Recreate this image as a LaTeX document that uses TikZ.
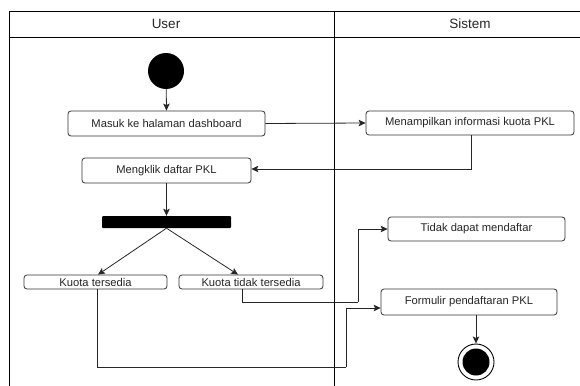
\documentclass[tikz,border=0pt]{standalone}
\usepackage{fontspec}
\setmainfont{Liberation Sans}
\usetikzlibrary{arrows.meta,calc}
\begin{document}
\begin{tikzpicture}[x=1pt,y=-1pt,
  act/.style={draw=black!80,line width=0.8pt,rounded corners=3pt,fill=white,
    inner sep=0pt,font=\fontsize{11.2}{13}\selectfont,text=black!85},
  conn/.style={draw=black!85,line width=0.8pt,-{Stealth[length=7pt,width=6.5pt,inset=1.5pt]}},
  plain/.style={draw=black!85,line width=0.8pt},
  lane/.style={draw=black,line width=0.9pt},
  hdr/.style={font=\fontsize{13.5}{15}\selectfont,text=black!85}]
\useasboundingbox (0,0) rectangle (580,385);
% swimlane frame
\draw[lane] (9,11) -- (581,11);
\draw[lane] (9,37) -- (581,37);
\draw[lane] (9,11) -- (9,386);
\draw[lane] (334,11) -- (334,386);
\node[hdr] (huser) at (166,24) {User};
\node[hdr] (hsis) at (470,24) {Sistem};
% nodes
\node[circle,fill=black,minimum size=36pt,inner sep=0pt] (start) at (166,71) {};
\node[act,minimum width=197pt,minimum height=25pt] (masuk) at (166.5,123.5) {Masuk ke halaman dashboard};
\node[act,minimum width=208pt,minimum height=24pt] (men) at (470,123) {Menampilkan informasi kuota PKL};
\node[act,minimum width=169pt,minimum height=25pt] (klik) at (166.5,170.5) {Mengklik daftar PKL};
\node[fill=black,rounded corners=1pt,minimum width=129pt,minimum height=12pt,inner sep=0pt] (bar) at (166.5,222) {};
\node[act,minimum width=143pt,minimum height=14pt] (kt) at (95.5,282) {Kuota tersedia};
\node[act,minimum width=144pt,minimum height=14pt] (ktt) at (251,282) {Kuota tidak tersedia};
\node[act,minimum width=177pt,minimum height=24pt] (tidak) at (476.5,229) {Tidak dapat mendaftar};
\node[act,minimum width=176pt,minimum height=26pt] (form) at (469,302) {Formulir pendaftaran PKL};
\node[circle,draw=black,line width=0.9pt,fill=white,minimum size=36pt,inner sep=0pt] (end) at (476,362) {};
\node[circle,fill=black,minimum size=27pt,inner sep=0pt] (endin) at (end) {};
\coordinate (c1) at (358,302);
\coordinate (c2) at (346,367);
% connectors
\draw[conn] (start) -- (masuk.north);
\draw[conn] (masuk.east) -- (men.west);
\draw[conn] ([xshift=1pt]men.south) |- ([yshift=1.5pt]klik.east);
\draw[conn] (klik.south) -- (bar.north);
\draw[conn] (bar.south) -- ([xshift=2.5pt]kt.north);
\draw[conn] (bar.south) -- ([xshift=-13pt]ktt.north);
\draw[plain] ([xshift=-9pt]ktt.south) |- (c1);
\draw[conn] (c1) |- (tidak.west);
\draw[plain] ([xshift=1.5pt]kt.south) |- (c2);
\draw[conn] (c2) |- ([yshift=-6pt]form.west);
\draw[conn] ([xshift=7pt]form.south) -- (end.north);
\end{tikzpicture}
\end{document}
